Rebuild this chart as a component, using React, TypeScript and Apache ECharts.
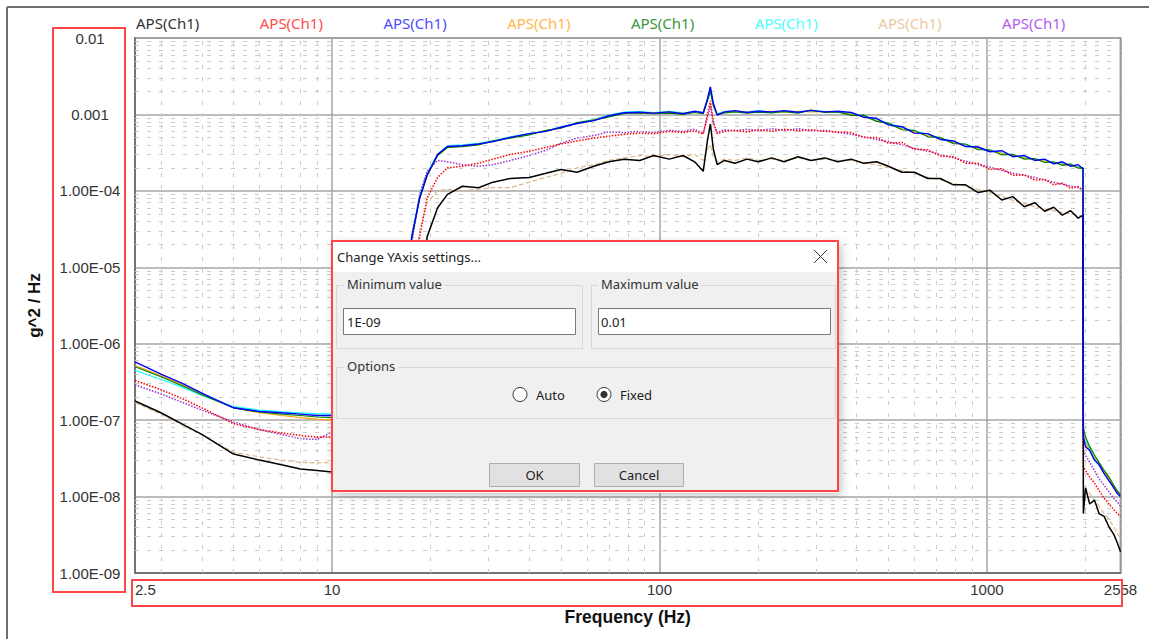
import React, { useEffect, useRef } from "react";
import * as echarts from "echarts";

// Frequency axis (Hz)
const FREQ = [
  2.5, 3, 3.5, 4, 5, 6, 7, 8, 9, 10, 12, 14, 15.5, 16.5, 17.5, 18.5, 19.5, 21, 22.5, 25,
  28, 31, 35, 40, 45, 50, 56, 63, 70, 78, 87, 96, 107, 118, 128, 136, 140, 143, 146, 150,
  158, 170, 185, 200, 220, 240, 265, 290, 320, 350, 385, 420, 460, 500, 550, 600, 660, 720, 790, 860,
  940, 1020, 1110, 1200, 1300, 1400, 1500, 1600, 1700, 1800, 1900, 1965, 1970, 2000, 2060, 2130, 2200, 2280, 2360, 2440,
  2500, 2558,
];

const BLACK = [
  1.78e-7, 1.25e-7, 8.8e-8, 6.5e-8, 3.6e-8, 3.0e-8, 2.6e-8, 2.3e-8, 2.2e-8, 2.1e-8, 2.1e-8, 2.2e-8, 2.4e-8, 3e-8, 8e-8, 1.5e-6, 2.5e-5, 6e-5, 9e-5, 1.15e-4,
  1.1e-4, 1.3e-4, 1.45e-4, 1.5e-4, 1.7e-4, 1.9e-4, 1.75e-4, 2.1e-4, 2.4e-4, 2.6e-4, 2.5e-4, 2.9e-4, 2.6e-4, 2.9e-4, 2.4e-4, 1.8e-4, 4.5e-4, 7.5e-4, 3.5e-4, 2.2e-4,
  2.5e-4, 2.3e-4, 2.6e-4, 2.4e-4, 2.7e-4, 2.4e-4, 2.8e-4, 2.5e-4, 2.7e-4, 2.4e-4, 2.6e-4, 2.3e-4, 2.4e-4, 2.1e-4, 1.75e-4, 1.75e-4, 1.45e-4, 1.45e-4, 1.2e-4, 1.2e-4,
  9.5e-5, 1.02e-4, 7.6e-5, 8.4e-5, 6.2e-5, 7.0e-5, 5.4e-5, 6.1e-5, 4.8e-5, 5.5e-5, 4.4e-5, 4.8e-5, 6e-9, 1.3e-8, 8e-9, 9e-9, 6e-9, 5.5e-9, 4e-9, 3.2e-9,
  2.5e-9, 1.9e-9,
];

const RED = [
  3.3e-7, 2.5e-7, 1.9e-7, 1.45e-7, 9.0e-8, 7.5e-8, 6.8e-8, 6.3e-8, 6.0e-8, 6.0e-8, 6.0e-8, 6.5e-8, 8e-8, 4e-7, 3e-6, 2.5e-5, 8e-5, 1.5e-4, 2.0e-4, 2.1e-4,
  2.3e-4, 2.6e-4, 3.0e-4, 3.3e-4, 3.7e-4, 4.1e-4, 4.5e-4, 4.9e-4, 5.2e-4, 5.5e-4, 5.7e-4, 5.6e-4, 6.0e-4, 5.8e-4, 6.1e-4, 5.5e-4, 1.0e-3, 1.5e-3, 8e-4, 5.6e-4,
  6.0e-4, 6.2e-4, 5.9e-4, 6.3e-4, 6.0e-4, 6.4e-4, 6.1e-4, 6.3e-4, 6.0e-4, 5.9e-4, 5.8e-4, 5.0e-4, 5.0e-4, 4.2e-4, 4.3e-4, 3.5e-4, 3.45e-4, 2.85e-4, 2.8e-4, 2.3e-4,
  2.3e-4, 1.9e-4, 1.95e-4, 1.6e-4, 1.62e-4, 1.38e-4, 1.42e-4, 1.2e-4, 1.26e-4, 1.08e-4, 1.14e-4, 1.0e-4, 2.5e-8, 2.2e-8, 1.8e-8, 1.5e-8, 1.2e-8, 9.5e-9, 8e-9, 6.8e-9,
  6e-9, 5.5e-9,
];

const BLUE = [
  5.8e-7, 4.0e-7, 3.0e-7, 2.25e-7, 1.45e-7, 1.3e-7, 1.25e-7, 1.2e-7, 1.15e-7, 1.15e-7, 1.15e-7, 1.2e-7, 1.6e-7, 1.5e-6, 2.5e-5, 8e-5, 1.6e-4, 3e-4, 3.8e-4, 3.9e-4,
  4.1e-4, 4.4e-4, 5.0e-4, 5.6e-4, 6.0e-4, 6.8e-4, 7.6e-4, 8.3e-4, 9.6e-4, 1.05e-3, 1.07e-3, 1.04e-3, 1.08e-3, 1.02e-3, 1.1e-3, 1.05e-3, 1.6e-3, 2.3e-3, 1.4e-3, 9.8e-4,
  1.08e-3, 1.12e-3, 1.06e-3, 1.1e-3, 1.08e-3, 1.12e-3, 1.07e-3, 1.13e-3, 1.08e-3, 1.1e-3, 1.06e-3, 9.2e-4, 8.9e-4, 7.3e-4, 6.9e-4, 5.7e-4, 5.6e-4, 4.7e-4, 4.5e-4, 3.8e-4,
  3.75e-4, 3.25e-4, 3.35e-4, 2.8e-4, 2.9e-4, 2.5e-4, 2.6e-4, 2.25e-4, 2.4e-4, 2.1e-4, 2.2e-4, 1.95e-4, 6e-8, 4.5e-8, 4e-8, 3e-8, 2.6e-8, 2e-8, 1.6e-8, 1.3e-8,
  1.1e-8, 1.0e-8,
];

const ORANGE = [
  5.2e-7, 3.8e-7, 2.9e-7, 2.2e-7, 1.45e-7, 1.25e-7, 1.15e-7, 1.08e-7, 1.03e-7, 1.0e-7, 1.0e-7, 1.05e-7, 1.4e-7, 1.3e-6, 2.3e-5, 7.8e-5, 1.55e-4, 2.9e-4, 3.7e-4, 3.9e-4,
  4.1e-4, 4.4e-4, 5.0e-4, 5.5e-4, 6.1e-4, 6.7e-4, 7.6e-4, 8.5e-4, 9.5e-4, 1.04e-3, 1.06e-3, 1.05e-3, 1.07e-3, 1.03e-3, 1.08e-3, 1.04e-3, 1.55e-3, 2.1e-3, 1.3e-3, 1.0e-3,
  1.07e-3, 1.1e-3, 1.07e-3, 1.09e-3, 1.1e-3, 1.08e-3, 1.1e-3, 1.08e-3, 1.09e-3, 1.09e-3, 1.0e-3, 9.3e-4, 8.3e-4, 7.5e-4, 6.5e-4, 5.9e-4, 5.3e-4, 4.8e-4, 4.3e-4, 3.95e-4,
  3.6e-4, 3.35e-4, 3.1e-4, 2.9e-4, 2.7e-4, 2.55e-4, 2.45e-4, 2.3e-4, 2.22e-4, 2.12e-4, 2.02e-4, 1.9e-4, 6.5e-8, 5e-8, 4e-8, 3.2e-8, 2.6e-8, 2.1e-8, 1.7e-8, 1.35e-8,
  1.15e-8, 1.0e-8,
];

const GREEN = [
  5.0e-7, 3.7e-7, 2.8e-7, 2.15e-7, 1.45e-7, 1.28e-7, 1.2e-7, 1.15e-7, 1.1e-7, 1.08e-7, 1.08e-7, 1.12e-7, 1.5e-7, 1.4e-6, 2.4e-5, 8e-5, 1.6e-4, 2.9e-4, 3.7e-4, 3.8e-4,
  4.0e-4, 4.5e-4, 4.9e-4, 5.4e-4, 6.2e-4, 6.6e-4, 7.8e-4, 8.4e-4, 9.3e-4, 1.03e-3, 1.05e-3, 1.02e-3, 1.04e-3, 1.0e-3, 1.06e-3, 1.02e-3, 1.5e-3, 2.0e-3, 1.3e-3, 1.0e-3,
  1.05e-3, 1.08e-3, 1.04e-3, 1.07e-3, 1.05e-3, 1.09e-3, 1.04e-3, 1.14e-3, 1.06e-3, 1.08e-3, 9.7e-4, 9.8e-4, 8.1e-4, 7.7e-4, 6.3e-4, 6.2e-4, 5.1e-4, 5.0e-4, 4.15e-4, 4.1e-4,
  3.45e-4, 3.45e-4, 2.95e-4, 3.0e-4, 2.6e-4, 2.65e-4, 2.35e-4, 2.4e-4, 2.15e-4, 2.25e-4, 1.98e-4, 2.0e-4, 8e-8, 6e-8, 4.5e-8, 3.5e-8, 2.8e-8, 2.2e-8, 1.8e-8, 1.4e-8,
  1.2e-8, 1.05e-8,
];

const CYAN = [
  4.5e-7, 3.4e-7, 2.7e-7, 2.1e-7, 1.5e-7, 1.35e-7, 1.28e-7, 1.25e-7, 1.22e-7, 1.2e-7, 1.2e-7, 1.25e-7, 1.7e-7, 1.6e-6, 2.6e-5, 8.5e-5, 1.7e-4, 3e-4, 3.9e-4, 4.0e-4,
  4.2e-4, 4.5e-4, 5.1e-4, 5.6e-4, 6.1e-4, 6.9e-4, 7.7e-4, 8.6e-4, 9.8e-4, 1.07e-3, 1.09e-3, 1.06e-3, 1.1e-3, 1.05e-3, 1.09e-3, 1.06e-3, 1.5e-3, 2.1e-3, 1.35e-3, 1.02e-3,
  1.1e-3, 1.1e-3, 1.08e-3, 1.12e-3, 1.06e-3, 1.1e-3, 1.09e-3, 1.1e-3, 1.1e-3, 1.07e-3, 1.02e-3, 9.5e-4, 8.5e-4, 7.7e-4, 6.7e-4, 6.1e-4, 5.5e-4, 4.9e-4, 4.4e-4, 4.0e-4,
  3.7e-4, 3.4e-4, 3.15e-4, 2.95e-4, 2.75e-4, 2.6e-4, 2.5e-4, 2.35e-4, 2.28e-4, 2.18e-4, 2.08e-4, 1.98e-4, 7e-8, 5.5e-8, 4.2e-8, 3.3e-8, 2.7e-8, 2.1e-8, 1.7e-8, 1.35e-8,
  1.15e-8, 1.0e-8,
];

const TAN = [
  1.7e-7, 1.2e-7, 8.6e-8, 6.4e-8, 3.8e-8, 3.3e-8, 3.0e-8, 2.8e-8, 2.75e-8, 2.8e-8, 2.8e-8, 2.9e-8, 3.5e-8, 1e-7, 2e-6, 3e-5, 7e-5, 1.0e-4, 1.05e-4, 1.0e-4,
  1.05e-4, 1.1e-4, 1.1e-4, 1.3e-4, 1.5e-4, 1.7e-4, 2.0e-4, 2.2e-4, 2.5e-4, 2.7e-4, 2.9e-4, 2.8e-4, 3.0e-4, 2.8e-4, 3.0e-4, 2.5e-4, 3.5e-4, 4e-4, 2.8e-4, 2.4e-4,
  2.6e-4, 2.5e-4, 2.7e-4, 2.5e-4, 2.6e-4, 2.5e-4, 2.7e-4, 2.5e-4, 2.6e-4, 2.5e-4, 2.5e-4, 2.3e-4, 2.2e-4, 2.0e-4, 1.85e-4, 1.7e-4, 1.5e-4, 1.4e-4, 1.25e-4, 1.15e-4,
  1.05e-4, 9.5e-5, 8.5e-5, 7.5e-5, 6.8e-5, 6.2e-5, 5.8e-5, 5.5e-5, 5.2e-5, 5.0e-5, 4.8e-5, 4.6e-5, 1.5e-8, 1.3e-8, 1.1e-8, 9e-9, 7.5e-9, 6e-9, 5e-9, 4e-9,
  3.3e-9, 2.8e-9,
];

const PURPLE = [
  2.9e-7, 2.2e-7, 1.7e-7, 1.35e-7, 9.5e-8, 7.5e-8, 6.5e-8, 5.7e-8, 5.6e-8, 7.0e-8, 7.2e-8, 7.5e-8, 1e-7, 1.5e-6, 2e-5, 9e-5, 1.8e-4, 2.5e-4, 2.4e-4, 2.2e-4,
  2.1e-4, 2.2e-4, 2.5e-4, 2.9e-4, 3.4e-4, 4.2e-4, 4.9e-4, 5.3e-4, 5.9e-4, 5.8e-4, 6.0e-4, 5.8e-4, 6.2e-4, 6.0e-4, 6.4e-4, 5.7e-4, 9e-4, 1.3e-3, 7.5e-4, 5.8e-4,
  6.3e-4, 6.1e-4, 6.4e-4, 6.1e-4, 6.5e-4, 6.2e-4, 6.5e-4, 6.1e-4, 6.2e-4, 5.8e-4, 5.5e-4, 5.1e-4, 4.7e-4, 4.4e-4, 4.0e-4, 3.6e-4, 3.3e-4, 3.0e-4, 2.7e-4, 2.45e-4,
  2.2e-4, 2.05e-4, 1.85e-4, 1.7e-4, 1.6e-4, 1.5e-4, 1.38e-4, 1.3e-4, 1.22e-4, 1.16e-4, 1.1e-4, 1.05e-4, 4e-8, 3.5e-8, 2.8e-8, 2.2e-8, 1.7e-8, 1.4e-8, 1.15e-8, 9.5e-9,
  8.5e-9, 7.5e-9,
];

const SERIES_LABEL = "APS(Ch1)";
const CHANNELS = [
  { values: BLACK, color: "#000000", text: "#333333", type: "solid", width: 1.5, z: 7 },
  { values: RED, color: "#ff0000", text: "#ff4d4d", type: "dotted", width: 1.5, z: 5 },
  { values: BLUE, color: "#0000ff", text: "#4d4dff", type: "solid", width: 1.4, z: 8 },
  { values: ORANGE, color: "#ffa500", text: "#ffb74d", type: "solid", width: 1.2, z: 4 },
  { values: GREEN, color: "#008000", text: "#3c963c", type: "solid", width: 1.2, z: 6 },
  { values: CYAN, color: "#00ffff", text: "#4dffff", type: "solid", width: 1.2, z: 3 },
  { values: TAN, color: "#deb887", text: "#ecc9a4", type: "dashed", width: 1.2, z: 2 },
  { values: PURPLE, color: "#9932cc", text: "#b45cf0", type: "dotted", width: 1.5, z: 4 },
];

const X_MIN = 2.5;
const X_MAX = 2558;
const Y_MIN = 1e-9;
const Y_MAX = 1e-2;

function minorValues(lo: number, hi: number): number[] {
  const out: number[] = [];
  for (let e = Math.floor(Math.log10(lo)); e <= Math.ceil(Math.log10(hi)); e++) {
    for (let k = 2; k <= 9; k++) {
      const v = k * Math.pow(10, e);
      if (v > lo * 1.0001 && v < hi * 0.9999) out.push(v);
    }
  }
  return out;
}

function fmtY(v: number): string {
  if (v >= 0.00099) return String(Number(v.toPrecision(3)));
  const e = Math.round(Math.log10(v));
  const m = v / Math.pow(10, e);
  const sign = e < 0 ? "-" : "+";
  const ae = Math.abs(e);
  return m.toFixed(2) + "E" + sign + (ae < 10 ? "0" + ae : String(ae));
}

function fmtX(v: number): string {
  return String(Math.round(v * 10) / 10);
}

const UI_FONT = '"Noto Sans", "Open Sans", sans-serif';

function txt(x: number, y: number, text: string, opts: any = {}) {
  return {
    type: "text",
    x,
    y,
    z: 110,
    silent: true,
    style: {
      text,
      fill: opts.fill || "#222",
      fontSize: opts.fontSize || 13,
      fontFamily: opts.fontFamily || UI_FONT,
      align: opts.align || "left",
      verticalAlign: "middle",
      backgroundColor: opts.bg,
      padding: opts.bg ? [0, 3, 0, 3] : undefined,
    },
  };
}

function box(x: number, y: number, w: number, h: number, fill: string, stroke: string, lw = 1, z = 105) {
  return {
    type: "rect",
    z,
    silent: true,
    shape: { x, y, width: w, height: h },
    style: { fill, stroke, lineWidth: lw },
  };
}

export default function App() {
  const ref = useRef<HTMLDivElement>(null);

  useEffect(() => {
    if (!ref.current) return;
    const chart = echarts.init(ref.current, null, { renderer: "svg" });

    const names = CHANNELS.map((_, i) => `${SERIES_LABEL}#${i + 1}`);
    const series: any[] = CHANNELS.map((c, i) => ({
      name: names[i],
      type: "line",
      showSymbol: false,
      symbol: "none",
      z: c.z,
      data: FREQ.map((f, j) => [f, c.values[j]]),
      lineStyle: { color: c.color, width: c.width, type: c.type },
      itemStyle: { color: c.color },
      silent: true,
    }));

    const minorStyle = { color: "#cbcbcb", type: [4, 8], width: 1 };
    series.unshift({
      name: "minor-grid",
      type: "line",
      z: 1,
      symbol: "none",
      data: [[X_MIN, Y_MIN]],
      lineStyle: { opacity: 0 },
      silent: true,
      markLine: {
        silent: true,
        symbol: ["none", "none"],
        label: { show: false },
        lineStyle: minorStyle,
        data: [
          ...minorValues(X_MIN, X_MAX).map((v) => [{ coord: [v, Y_MIN] }, { coord: [v, Y_MAX] }]),
          ...minorValues(Y_MIN, Y_MAX).map((v) => [{ coord: [X_MIN, v] }, { coord: [X_MAX, v] }]),
        ],
      },
    });

    const graphic: any[] = [
      // outer window frame
      { type: "line", z: 100, silent: true, shape: { x1: 7, y1: 7, x2: 1149, y2: 7 }, style: { stroke: "#707070", lineWidth: 2 } },
      { type: "line", z: 100, silent: true, shape: { x1: 7, y1: 7, x2: 7, y2: 639 }, style: { stroke: "#707070", lineWidth: 2 } },
      // annotation boxes
      box(53, 28, 72, 564, "none", "#ff4545", 2, 120),
      box(132, 580, 990, 26, "none", "#ff4545", 2, 120),
      // dialog shadow
      {
        type: "rect", z: 103, silent: true,
        shape: { x: 333, y: 242, width: 506, height: 251 },
        style: { fill: "#f0f0f0", shadowBlur: 10, shadowColor: "rgba(0,0,0,0.25)", shadowOffsetX: 2, shadowOffsetY: 2 },
      },
      box(332, 241, 506, 250, "#f0f0f0", "none", 0, 104),
      box(332, 241, 506, 31, "#ffffff", "none", 0, 105),
      txt(337, 257, "Change YAxis settings..."),
      { type: "line", z: 110, silent: true, shape: { x1: 814, y1: 250, x2: 827, y2: 263 }, style: { stroke: "#333", lineWidth: 1 } },
      { type: "line", z: 110, silent: true, shape: { x1: 827, y1: 250, x2: 814, y2: 263 }, style: { stroke: "#333", lineWidth: 1 } },
      // group boxes
      box(336.5, 285.5, 246, 63, "none", "#d8d8d8", 1, 106),
      box(591.5, 285.5, 244, 63, "none", "#d8d8d8", 1, 106),
      box(336.5, 367.5, 499, 51, "none", "#d8d8d8", 1, 106),
      txt(344, 284, "Minimum value", { bg: "#f0f0f0", fill: "#333" }),
      txt(598, 284, "Maximum value", { bg: "#f0f0f0", fill: "#333" }),
      txt(344, 366, "Options", { bg: "#f0f0f0", fill: "#333" }),
      // inputs
      box(343.5, 308.5, 232, 26, "#ffffff", "#7a7a7a", 1, 107),
      box(598.5, 308.5, 232, 26, "#ffffff", "#7a7a7a", 1, 107),
      txt(347, 321.5, "1E-09"),
      txt(601, 321.5, "0.01"),
      // radios
      { type: "circle", z: 108, silent: true, shape: { cx: 520, cy: 394.5, r: 7 }, style: { fill: "#fff", stroke: "#333", lineWidth: 1 } },
      { type: "circle", z: 108, silent: true, shape: { cx: 604, cy: 394.5, r: 7 }, style: { fill: "#fff", stroke: "#333", lineWidth: 1 } },
      { type: "circle", z: 109, silent: true, shape: { cx: 604, cy: 394.5, r: 3.6 }, style: { fill: "#333" } },
      txt(536, 395, "Auto"),
      txt(620, 395, "Fixed"),
      // buttons
      box(489.5, 463.5, 90, 23, "#e1e1e1", "#adadad", 1, 107),
      box(594.5, 463.5, 89, 23, "#e1e1e1", "#adadad", 1, 107),
      txt(534.5, 475, "OK", { align: "center" }),
      txt(639, 475, "Cancel", { align: "center" }),
      // dialog red outline
      box(332, 241, 506, 250, "none", "#ff4545", 2, 120),
    ];

    chart.setOption({
      animation: false,
      backgroundColor: "#ffffff",
      legend: {
        left: 126,
        top: 10,
        icon: "none",
        itemWidth: 0,
        itemHeight: 14,
        itemGap: 55.5,
        selectedMode: false,
        formatter: () => SERIES_LABEL,
        textStyle: { fontSize: 15, fontFamily: UI_FONT },
        data: names.map((n, i) => ({ name: n, textStyle: { color: CHANNELS[i].text } })),
      },
      grid: {
        left: 135,
        top: 38,
        width: 985.5,
        height: 535,
        show: true,
        borderColor: "#666",
        borderWidth: 1.5,
        backgroundColor: "#ffffff",
      },
      xAxis: {
        type: "log",
        logBase: 10,
        min: X_MIN,
        max: X_MAX,
        axisLine: { show: true, lineStyle: { color: "#666", width: 1.5 } },
        axisTick: { show: false },
        splitLine: { show: true, lineStyle: { color: "#a6a6a6", width: 1.5 } },
        axisLabel: {
          color: "#333",
          fontSize: 15,
          fontFamily: "Liberation Sans, Arial, sans-serif",
          margin: 9,
          showMinLabel: true,
          showMaxLabel: true,
          alignMinLabel: "left",
          formatter: fmtX,
        },
        name: "Frequency (Hz)",
        nameLocation: "middle",
        nameGap: 35,
        nameTextStyle: { fontWeight: "bold", fontSize: 17.5, color: "#111", fontFamily: "Liberation Sans, Arial, sans-serif" },
      },
      yAxis: {
        type: "log",
        logBase: 10,
        min: Y_MIN,
        max: Y_MAX,
        axisLine: { show: true, lineStyle: { color: "#666", width: 1.5 } },
        axisTick: { show: false },
        splitLine: { show: true, lineStyle: { color: "#a6a6a6", width: 1.5 } },
        axisLabel: {
          color: "#333",
          fontSize: 15,
          fontFamily: "Liberation Sans, Arial, sans-serif",
          margin: 45,
          align: "center",
          showMinLabel: true,
          showMaxLabel: true,
          formatter: fmtY,
        },
        name: "g^2 / Hz",
        nameLocation: "middle",
        nameGap: 92,
        nameRotate: 90,
        nameTextStyle: { fontWeight: "bold", fontSize: 17, color: "#111", fontFamily: "Liberation Sans, Arial, sans-serif" },
      },
      series,
      graphic,
    });

    return () => chart.dispose();
  }, []);

  return (
    <div
      ref={ref}
      style={{ position: "fixed", left: 0, top: 0, width: 1149, height: 639, background: "#fff" }}
    />
  );
}
